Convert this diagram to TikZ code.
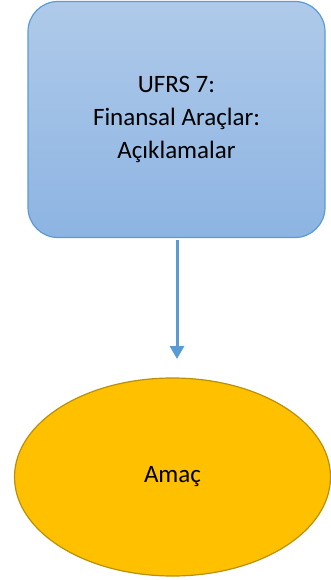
\documentclass[tikz,border=0pt]{standalone}
\usepackage{fontspec}
\setmainfont{Carlito}
\usetikzlibrary{shapes.geometric,arrows.meta}
\definecolor{boxtop}{HTML}{AFCAEA}
\definecolor{boxbot}{HTML}{8DB4E2}
\definecolor{boxline}{HTML}{5B9BD5}
\definecolor{ellfill}{HTML}{FFC000}
\definecolor{ellline}{HTML}{B8900A}
\tikzset{
  titlebox/.style={draw=boxline, line width=1.2pt, rounded corners=30pt,
    top color=boxtop, bottom color=boxbot, minimum width=297pt, minimum height=236pt,
    align=center, font=\fontsize{25}{33}\selectfont, inner sep=0pt},
  goal/.style={ellipse, draw=ellline, line width=1.2pt, fill=ellfill,
    minimum width=316pt, minimum height=198pt, inner sep=0pt,
    font=\fontsize{25}{33}\selectfont},
  conn/.style={draw=boxline, line width=3pt, -{Triangle[length=13pt,width=14pt]}}
}
\begin{document}
\begin{tikzpicture}[x=1pt,y=-1pt]
\useasboundingbox (0,0) rectangle (331,580);
\node[titlebox] (t) at (176.5,119.5) {UFRS 7:\\Finansal Araçlar:\\Açıklamalar};
\node[goal] (g) at (172.5,477) {Amaç};
\coordinate (a1) at (177,240);
\coordinate (a2) at (177,359);
\draw[conn] (a1) -- (a2);
\end{tikzpicture}
\end{document}
